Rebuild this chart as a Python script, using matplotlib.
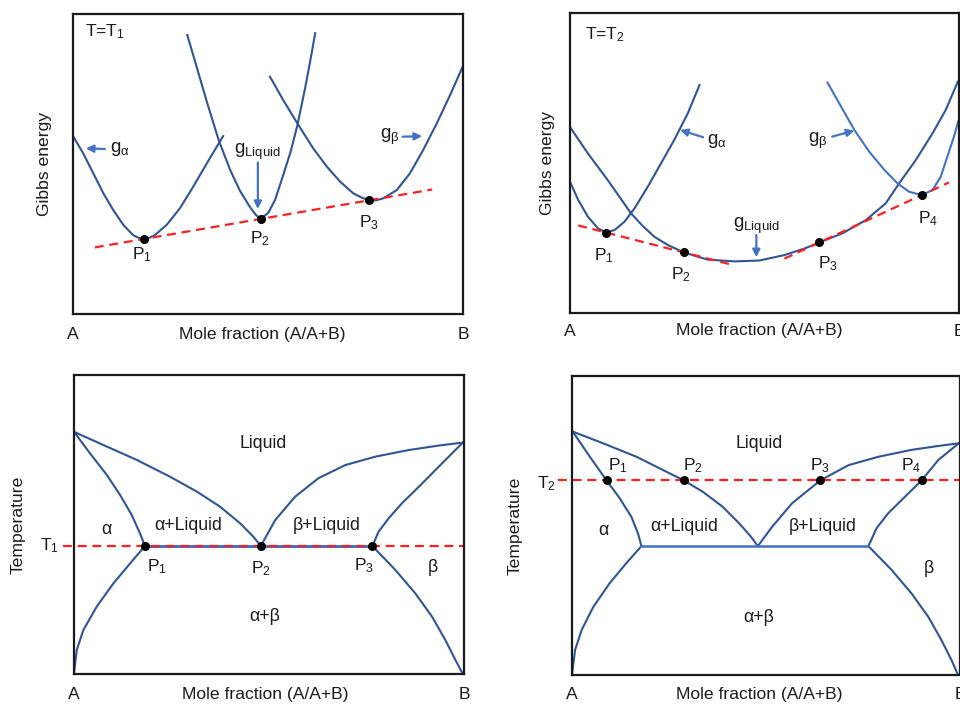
import matplotlib
matplotlib.use('Agg')
import matplotlib.pyplot as plt

plt.rcParams['font.family'] = ['Liberation Sans', 'DejaVu Sans']

DARK = '#2F5597'
LIGHT = '#4472C4'
RED = '#FF1F1F'

# ---- panel 1 : Gibbs energy at T1 (x = mole fraction, y = relative energy)
p1_ga_x = [0.001, 0.026, 0.052, 0.078, 0.103, 0.129, 0.154, 0.168, 0.182, 0.196, 0.210, 0.240, 0.274, 0.308, 0.343, 0.385]
p1_ga_y = [0.591, 0.536, 0.469, 0.402, 0.347, 0.297, 0.263, 0.254, 0.250, 0.254, 0.263, 0.297, 0.352, 0.424, 0.502, 0.593]
p1_liq_x = [0.293, 0.317, 0.343, 0.374, 0.403, 0.428, 0.454, 0.469, 0.482, 0.501, 0.518, 0.539, 0.558, 0.575, 0.595, 0.608, 0.621]
p1_liq_y = [0.930, 0.824, 0.708, 0.578, 0.480, 0.411, 0.356, 0.330, 0.317, 0.338, 0.380, 0.463, 0.541, 0.627, 0.752, 0.841, 0.936]
p1_gb_x = [0.505, 0.539, 0.578, 0.616, 0.651, 0.685, 0.719, 0.740, 0.760, 0.778, 0.796, 0.830, 0.864, 0.898, 0.933, 0.967, 0.999]
p1_gb_y = [0.791, 0.713, 0.630, 0.552, 0.491, 0.441, 0.402, 0.388, 0.379, 0.379, 0.386, 0.413, 0.469, 0.547, 0.636, 0.730, 0.824]
p1_tan_x = [0.056, 0.921]
p1_tan_y = [0.222, 0.415]
p1_pts_x = [0.182, 0.482, 0.760]
p1_pts_y = [0.250, 0.317, 0.379]

# ---- panel 2 : Gibbs energy at T2
p2_ga_x = [0.002, 0.021, 0.046, 0.072, 0.093, 0.115, 0.140, 0.166, 0.200, 0.234, 0.268, 0.303, 0.333]
p2_ga_y = [0.432, 0.377, 0.321, 0.282, 0.268, 0.277, 0.304, 0.349, 0.421, 0.499, 0.577, 0.666, 0.760]
p2_liq_x = [0.002, 0.046, 0.097, 0.157, 0.187, 0.217, 0.251, 0.292, 0.354, 0.423, 0.487, 0.551, 0.603, 0.641, 0.701, 0.761, 0.812, 0.846, 0.889, 0.932, 0.966, 0.997]
p2_liq_y = [0.616, 0.532, 0.443, 0.332, 0.290, 0.254, 0.227, 0.202, 0.178, 0.172, 0.175, 0.193, 0.215, 0.235, 0.266, 0.310, 0.366, 0.432, 0.510, 0.599, 0.677, 0.771]
p2_gb_x = [0.662, 0.692, 0.731, 0.769, 0.808, 0.842, 0.872, 0.904, 0.932, 0.953, 0.970, 0.987, 0.998]
p2_gb_y = [0.768, 0.699, 0.610, 0.538, 0.477, 0.432, 0.404, 0.393, 0.410, 0.454, 0.521, 0.588, 0.638]
p2_tan1_x = [0.021, 0.422]
p2_tan1_y = [0.292, 0.159]
p2_tan2_x = [0.551, 0.974]
p2_tan2_y = [0.181, 0.435]
p2_pts_x = [0.093, 0.292, 0.641, 0.904]
p2_pts_y = [0.268, 0.202, 0.235, 0.393]

# ---- panel 3 : phase diagram with T1
p3_liqL_x = [0.000, 0.075, 0.161, 0.246, 0.315, 0.374, 0.426, 0.460, 0.479]
p3_liqL_y = [0.810, 0.766, 0.716, 0.660, 0.610, 0.560, 0.504, 0.459, 0.428]
p3_solA_x = [0.000, 0.041, 0.084, 0.118, 0.148, 0.169, 0.182]
p3_solA_y = [0.810, 0.738, 0.666, 0.599, 0.532, 0.471, 0.428]
p3_svA_x = [0.182, 0.144, 0.101, 0.058, 0.024, 0.007, 0.000]
p3_svA_y = [0.428, 0.370, 0.303, 0.225, 0.147, 0.080, 0.003]
p3_liqR_x = [0.479, 0.516, 0.567, 0.627, 0.696, 0.773, 0.858, 0.935, 0.997]
p3_liqR_y = [0.428, 0.515, 0.593, 0.655, 0.699, 0.727, 0.749, 0.764, 0.774]
p3_solB_x = [0.997, 0.935, 0.884, 0.841, 0.807, 0.781, 0.765]
p3_solB_y = [0.774, 0.693, 0.626, 0.571, 0.521, 0.476, 0.428]
p3_svB_x = [0.765, 0.824, 0.875, 0.918, 0.952, 0.978, 0.997]
p3_svB_y = [0.428, 0.348, 0.270, 0.192, 0.114, 0.047, 0.000]
T1 = 0.428
p3_pts_x = [0.182, 0.479, 0.765]

# ---- panel 4 : phase diagram with T2
p4_liqL_x = [0.002, 0.080, 0.166, 0.243, 0.288, 0.337, 0.388, 0.431, 0.461, 0.479]
p4_liqL_y = [0.814, 0.775, 0.730, 0.680, 0.651, 0.613, 0.563, 0.507, 0.463, 0.431]
p4_solA_x = [0.002, 0.046, 0.089, 0.123, 0.153, 0.170, 0.179]
p4_solA_y = [0.814, 0.730, 0.651, 0.591, 0.529, 0.474, 0.431]
p4_svA_x = [0.179, 0.140, 0.097, 0.055, 0.025, 0.008, 0.002, 0.000]
p4_svA_y = [0.431, 0.374, 0.307, 0.228, 0.151, 0.084, 0.022, 0.000]
p4_liqR_x = [0.479, 0.516, 0.567, 0.640, 0.713, 0.790, 0.875, 0.944, 0.997]
p4_liqR_y = [0.431, 0.496, 0.574, 0.651, 0.702, 0.730, 0.753, 0.766, 0.775]
p4_solB_x = [0.997, 0.944, 0.901, 0.858, 0.815, 0.785, 0.764]
p4_solB_y = [0.775, 0.719, 0.651, 0.596, 0.541, 0.491, 0.431]
p4_svB_x = [0.764, 0.824, 0.875, 0.918, 0.952, 0.978, 0.995]
p4_svB_y = [0.431, 0.351, 0.273, 0.195, 0.117, 0.050, 0.000]
p4_eut_x = [0.179, 0.764]
p4_eut_y = [0.431, 0.431]
T2 = 0.651
p4_pts_x = [0.089, 0.288, 0.640, 0.901]

DASH = (0, (4, 2.6))
FS = 12.6      # axis / point labels
RS = 12.8      # region labels

fig = plt.figure(figsize=(9.6, 7.05), dpi=100)


def panel(l, t, w, h):
    ax = fig.add_axes([l / 960, (705 - t - h) / 705, w / 960, h / 705])
    ax.set_xlim(0, 1)
    ax.set_ylim(0, 1)
    ax.set_xticks([])
    ax.set_yticks([])
    for s in ax.spines.values():
        s.set_linewidth(1.6)
        s.set_color('#1a1a1a')
    return ax


def txt(ax, x, y, s, size=FS, **kw):
    kw.setdefault('ha', 'center')
    kw.setdefault('va', 'center')
    ax.text(x, y, s, fontsize=size, clip_on=False, color='#1a1a1a', **kw)


def sub(a, b):
    return r'$\mathregular{%s_{%s}}$' % (a, b)


def arrow(ax, tail, head):
    ax.annotate('', xy=head, xytext=tail,
                arrowprops=dict(arrowstyle='-|>', color=LIGHT, lw=1.6,
                                mutation_scale=11, shrinkA=0, shrinkB=0))


def axis_text(ax, ylab, ylab_x, y0, xmid):
    txt(ax, ylab_x, 0.5, ylab, rotation=90)
    txt(ax, 0.0, y0, 'A')
    txt(ax, 1.0, y0, 'B')
    txt(ax, xmid, y0, 'Mole fraction (A/A+B)')


ax1 = panel(73, 14, 390, 300)
ax2 = panel(570, 13, 389, 300)
ax3 = panel(74, 375, 390, 299)
ax4 = panel(572, 376, 388, 299)

# panel 1
ax1.plot(p1_ga_x, p1_ga_y, color=DARK, lw=1.5)
ax1.plot(p1_liq_x, p1_liq_y, color=DARK, lw=1.5)
ax1.plot(p1_gb_x, p1_gb_y, color=DARK, lw=1.5)
ax1.plot(p1_tan_x, p1_tan_y, color=RED, lw=1.6, ls=DASH)
ax1.plot(p1_pts_x, p1_pts_y, 'o', color='k', ms=5.5, zorder=5)
txt(ax1, 0.031, 0.94, 'T=' + sub('T', '1'), ha='left')
for px, py, n in zip([0.176, 0.479, 0.760], [0.197, 0.252, 0.304], '123'):
    txt(ax1, px, py, sub('P', n))
txt(ax1, 0.095, 0.55, sub('g', r'\alpha'), size=13.5, ha='left')
arrow(ax1, (0.082, 0.55), (0.033, 0.552))
txt(ax1, 0.474, 0.54, sub('g', 'Liquid'), size=13.5)
arrow(ax1, (0.474, 0.505), (0.474, 0.35))
txt(ax1, 0.787, 0.59, sub('g', r'\beta'), size=13.5, ha='left')
arrow(ax1, (0.845, 0.591), (0.895, 0.593))
axis_text(ax1, 'Gibbs energy', -0.074, -0.067, 0.486)

# panel 2
ax2.plot(p2_ga_x, p2_ga_y, color=DARK, lw=1.5)
ax2.plot(p2_liq_x, p2_liq_y, color=DARK, lw=1.5)
ax2.plot(p2_gb_x, p2_gb_y, color=LIGHT, lw=1.5)
ax2.plot(p2_tan1_x, p2_tan1_y, color=RED, lw=1.6, ls=DASH)
ax2.plot(p2_tan2_x, p2_tan2_y, color=RED, lw=1.6, ls=DASH)
ax2.plot(p2_pts_x, p2_pts_y, 'o', color='k', ms=5.5, zorder=5)
txt(ax2, 0.038, 0.927, 'T=' + sub('T', '2'), ha='left')
for px, py, n in zip([0.088, 0.286, 0.664, 0.921], [0.19, 0.127, 0.163, 0.313], '1234'):
    txt(ax2, px, py, sub('P', n))
txt(ax2, 0.352, 0.575, sub('g', r'\alpha'), size=13.5, ha='left')
arrow(ax2, (0.342, 0.586), (0.283, 0.61))
txt(ax2, 0.612, 0.575, sub('g', r'\beta'), size=13.5, ha='left')
arrow(ax2, (0.674, 0.588), (0.731, 0.608))
txt(ax2, 0.479, 0.29, sub('g', 'Liquid'), size=13.5)
arrow(ax2, (0.479, 0.26), (0.479, 0.186))
axis_text(ax2, 'Gibbs energy', -0.059, -0.06, 0.486)

# panel 3
for xs, ys in [(p3_liqL_x, p3_liqL_y), (p3_solA_x, p3_solA_y), (p3_svA_x, p3_svA_y),
               (p3_liqR_x, p3_liqR_y), (p3_solB_x, p3_solB_y), (p3_svB_x, p3_svB_y)]:
    ax3.plot(xs, ys, color=DARK, lw=1.5)
ax3.plot([p3_pts_x[0], p3_pts_x[-1]], [T1, T1], color=LIGHT, lw=2.2)
ax3.plot([-0.028, 1.0], [T1, T1], color=RED, lw=1.6, ls=DASH, clip_on=False)
ax3.plot(p3_pts_x, [T1] * 3, 'o', color='k', ms=5.5, zorder=5)
for px, py, n in zip([0.212, 0.479, 0.744], [0.359, 0.351, 0.361], '123'):
    txt(ax3, px, py, sub('P', n))
txt(ax3, -0.063, T1, sub('T', '1'))
txt(ax3, 0.486, 0.771, 'Liquid', size=RS)
txt(ax3, 0.084, 0.482, 'α', size=RS)
txt(ax3, 0.292, 0.496, 'α+Liquid', size=RS)
txt(ax3, 0.648, 0.496, 'β+Liquid', size=RS)
txt(ax3, 0.921, 0.357, 'β', size=RS)
txt(ax3, 0.490, 0.192, 'α+β', size=RS)
axis_text(ax3, 'Temperature', -0.144, -0.067, 0.49)

# panel 4
for xs, ys in [(p4_liqL_x, p4_liqL_y), (p4_solA_x, p4_solA_y), (p4_svA_x, p4_svA_y),
               (p4_liqR_x, p4_liqR_y), (p4_solB_x, p4_solB_y), (p4_svB_x, p4_svB_y)]:
    ax4.plot(xs, ys, color=DARK, lw=1.5)
ax4.plot(p4_eut_x, p4_eut_y, color=LIGHT, lw=1.8)
ax4.plot([-0.036, 1.0], [T2, T2], color=RED, lw=1.6, ls=DASH, clip_on=False)
ax4.plot(p4_pts_x, [T2] * 4, 'o', color='k', ms=5.5, zorder=5)
for px, n in zip([0.119, 0.311, 0.640, 0.875], '1234'):
    txt(ax4, px, 0.70, sub('P', n))
txt(ax4, -0.065, 0.641, sub('T', '2'))
txt(ax4, 0.482, 0.773, 'Liquid', size=RS)
txt(ax4, 0.082, 0.483, 'α', size=RS)
txt(ax4, 0.288, 0.496, 'α+Liquid', size=RS)
txt(ax4, 0.646, 0.496, 'β+Liquid', size=RS)
txt(ax4, 0.920, 0.357, 'β', size=RS)
txt(ax4, 0.482, 0.192, 'α+β', size=RS)
axis_text(ax4, 'Temperature', -0.146, -0.064, 0.484)

fig.savefig('out.png', dpi=100)
